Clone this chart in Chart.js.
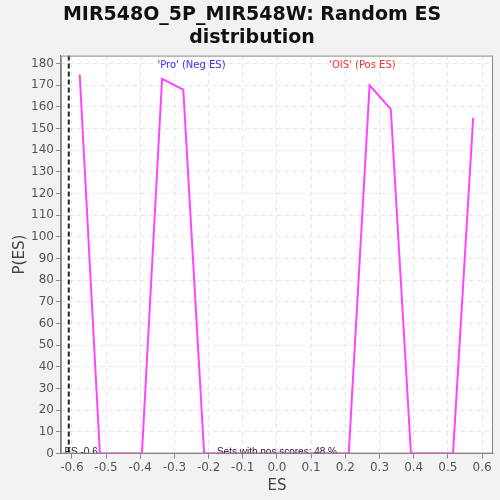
<!DOCTYPE html>
<html>
<head>
<meta charset="utf-8">
<script src="https://cdn.jsdelivr.net/npm/chart.js@4"></script>
<style>
  html, body { margin: 0; padding: 0; background: #f2f2f2; }
  #wrap { width: 500px; height: 500px; }
</style>
</head>
<body>
<div id="wrap"><canvas id="esChart" width="500" height="500"></canvas></div>
<script>
// DATA

const esValues = [-0.577, -0.518, -0.395, -0.336, -0.274, -0.213, 0.210, 0.271, 0.333, 0.392, 0.515, 0.574];
const densityValues = [175, 0, 0, 173, 168, 0, 0, 170, 159, 0, 0, 155];
const xTicks = [-0.6, -0.5, -0.4, -0.3, -0.2, -0.1, 0.0, 0.1, 0.2, 0.3, 0.4, 0.5, 0.6];
const yTicks = [0, 10, 20, 30, 40, 50, 60, 70, 80, 90, 100, 110, 120, 130, 140, 150, 160, 170, 180];
const realES = -0.609;
const posScoreLabel = "Sets with pos scores: 48 %";

// EXTRA DRAWING (background, frame, real ES line, labels)

const decorations = {
  id: "decorations",
  beforeDraw(chart) {
    const { ctx, chartArea: a } = chart;
    ctx.save();
    ctx.fillStyle = "#ffffff";
    ctx.fillRect(a.left, a.top, a.right - a.left, a.bottom - a.top);
    ctx.restore();
  },
  afterDatasetsDraw(chart) {
    const { ctx, chartArea: a, scales } = chart;
    const x = scales.x.getPixelForValue(realES);

    ctx.save();
    ctx.beginPath();
    ctx.rect(a.left, a.top, a.right - a.left, a.bottom - a.top);
    ctx.clip();

    // real ES dashed line
    ctx.strokeStyle = "#222222";
    ctx.lineWidth = 2;
    ctx.setLineDash([5, 3]);
    ctx.beginPath();
    ctx.moveTo(x, a.top);
    ctx.lineTo(x, a.bottom);
    ctx.stroke();
    ctx.setLineDash([]);

    ctx.font = "10px 'Liberation Sans', Arial, sans-serif";
    ctx.fillStyle = "#222222";
    ctx.textBaseline = "alphabetic";
    ctx.textAlign = "right";
    ctx.fillText("Real ES -0.6", x + 29, a.bottom + 1);

    ctx.textAlign = "center";
    ctx.fillText(posScoreLabel, scales.x.getPixelForValue(0), a.bottom + 1);

    ctx.font = "10px 'DejaVu Sans', sans-serif";
    ctx.textBaseline = "middle";
    ctx.fillStyle = "#3333ee";
    ctx.fillText("'Pro' (Neg ES)", scales.x.getPixelForValue(-0.25), a.top + 10);
    ctx.fillStyle = "#ee3333";
    ctx.fillText("'OIS' (Pos ES)", scales.x.getPixelForValue(0.25), a.top + 10);
    ctx.restore();

    // frame
    ctx.save();
    ctx.strokeStyle = "#888888";
    ctx.lineWidth = 1;
    ctx.strokeRect(a.left + 0.5, a.top + 0.5, a.right - a.left - 1, a.bottom - a.top - 1);
    ctx.restore();
  }
};

// CHART

const ctx = document.getElementById("esChart").getContext("2d");

new Chart(ctx, {
  type: "scatter",
  data: {
    datasets: [{
      data: esValues.map((v, i) => ({ x: v, y: densityValues[i] })),
      showLine: true,
      borderColor: "#ff44ff",
      borderWidth: 2,
      pointRadius: 0,
      tension: 0
    }]
  },
  options: {
    responsive: false,
    animation: false,
    layout: { padding: { left: 11, right: 7, top: 2, bottom: 5 } },
    plugins: {
      legend: { display: false },
      tooltip: { enabled: false },
      title: {
        display: true,
        text: ["MIR548O_5P_MIR548W: Random ES", "distribution"],
        color: "#111111",
        font: { family: "'DejaVu Sans', sans-serif", size: 19, weight: "bold", lineHeight: 1.2 },
        padding: { top: 2, bottom: 6 }
      }
    },
    scales: {
      x: {
        type: "linear",
        min: -0.632,
        max: 0.632,
        afterBuildTicks: (axis) => { axis.ticks = xTicks.map(v => ({ value: v })); },
        ticks: {
          color: "#555555",
          font: { family: "'DejaVu Sans', sans-serif", size: 12 },
          callback: (v) => v.toFixed(1),
          maxRotation: 0,
          autoSkip: false,
          padding: 2
        },
        grid: {
          color: "#e4e4e4",
          tickColor: "#888888",
          tickLength: 5,
          drawOnChartArea: true
        },
        border: { dash: [4, 4], color: "#888888" },
        title: {
          display: true,
          text: "ES",
          color: "#444444",
          font: { family: "'DejaVu Sans', sans-serif", size: 15 },
          padding: { top: 0, bottom: 0 }
        }
      },
      y: {
        type: "linear",
        min: 0,
        max: 183.7,
        afterBuildTicks: (axis) => { axis.ticks = yTicks.map(v => ({ value: v })); },
        ticks: {
          color: "#555555",
          font: { family: "'DejaVu Sans', sans-serif", size: 12 },
          autoSkip: false,
          padding: 2
        },
        grid: {
          color: "#e4e4e4",
          tickColor: "#888888",
          tickLength: 5
        },
        border: { dash: [4, 4], color: "#888888" },
        title: {
          display: true,
          text: "P(ES)",
          color: "#444444",
          font: { family: "'DejaVu Sans', sans-serif", size: 15 },
          padding: { top: 0, bottom: 0 }
        }
      }
    }
  },
  plugins: [decorations]
});
</script>
</body>
</html>
